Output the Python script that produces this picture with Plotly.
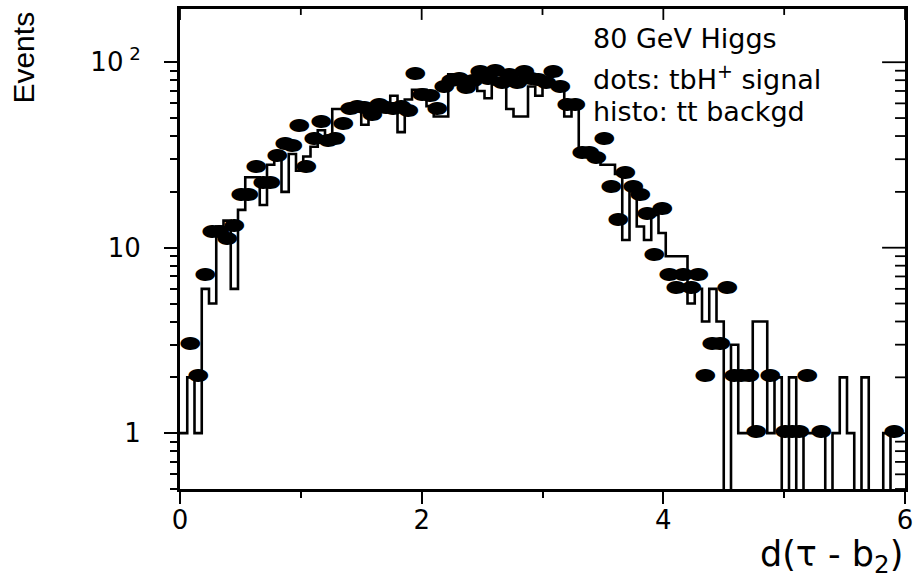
import numpy as np
import plotly.graph_objects as go

# d(tau - b2) distribution, 100 bins over [0, 6]
x_min, x_max, n_bins = 0.0, 6.0, 100

# tt background histogram contents per bin
background = [
    1, 2, 1, 6, 5, 13, 14, 6, 16, 24,
    24, 17, 28, 30, 20, 32, 26, 31, 35, 43,
    40, 56, 56, 55, 56, 46, 54, 54, 55, 66,
    42, 63, 71, 71, 58, 51, 51, 86, 76, 76,
    78, 70, 64, 76, 80, 56, 51, 51, 74, 66,
    78, 78, 73, 51, 60, 32, 32, 30, 28, 28,
    25, 11, 22, 13, 11, 15, 12, 9, 9, 9,
    5, 6, 4, 6, 4, 0, 3, 1, 1, 4,
    4, 1, 2, 0, 2, 0, 1, 1, 1, 0,
    1, 2, 1, 0, 2, 0, 0, 1, 0, 0,
]

# tbH+ signal contents per bin (None = empty bin)
signal = [
    None, 3, 2, 7, 12, 12, 11, 13, 19, 19,
    27, 22, 22, 31, 36, 35, 45, 27, 38, 47,
    37, 38, 46, 55, 57, 56, 51, 58, 56, 55,
    57, 54, 85, 66, 65, 55, 73, 78, 80, 72,
    78, 88, 80, 89, 76, 84, 76, 87, 80, 79,
    76, 88, 73, 58, 58, 32, 32, 30, 38, 21,
    14, 25, 21, 19, 15, 9, 16, 7, 6, 7,
    6, 7, 2, 3, 3, 6, 2, 2, 2, 1,
    None, 2, None, 1, 1, 1, 2, None, 1, None,
    None, None, None, None, None, None, None, None, 1, None,
]

y_tick_vals = [1, 10, 100]
y_tick_text = ["1", "10", "10<sup> 2</sup>"]
x_tick_vals = [0, 2, 4, 6]
x_tick_text = ["0", "2", "4", "6"]
x_minor_vals = [1, 3, 5]
y_minor_vals = [0.5, 0.6, 0.7, 0.8, 0.9] + list(range(2, 10)) + list(range(20, 100, 10)) + [200]

edges = np.linspace(x_min, x_max, n_bins + 1)
centers = 0.5 * (edges[:-1] + edges[1:])

# empty bins drop below the visible range so the step outline falls to the frame
floor = 1e-3
bg = np.array(background, dtype=float)
bg[bg <= 0] = floor
step_y = np.append(bg, bg[-1])

sig_x = [c for c, v in zip(centers, signal) if v is not None]
sig_y = [v for v in signal if v is not None]

FONT = "DejaVu Sans, Liberation Sans, Arial, sans-serif"
TICK_COLOR = "black"
WIDTH, HEIGHT = 919, 581
MARGIN = dict(l=180, r=11, t=6, b=92)
plot_w = WIDTH - MARGIN["l"] - MARGIN["r"]
plot_h = HEIGHT - MARGIN["t"] - MARGIN["b"]

y_range = [np.log10(0.5), 2.287]

fig = go.Figure()
fig.add_trace(go.Scatter(
    x=edges, y=step_y, mode="lines", line_shape="hv",
    line=dict(color="black", width=2.6), showlegend=False, hoverinfo="skip",
))
fig.add_trace(go.Scatter(
    x=sig_x, y=sig_y, mode="text", text=["⬬"] * len(sig_x),
    textfont=dict(family="DejaVu Sans", size=24, color="black"),
    textposition="middle center", showlegend=False,
))

fig.update_layout(
    width=WIDTH, height=HEIGHT, margin=MARGIN,
    paper_bgcolor="white", plot_bgcolor="white",
    font=dict(family=FONT, color="black"),
    xaxis=dict(
        range=[x_min, x_max], showgrid=False, zeroline=False,
        showline=True, linecolor="black", linewidth=3, mirror=True,
        tickvals=x_tick_vals, ticktext=x_tick_text,
        ticks="outside", ticklen=12, tickwidth=1.8, tickcolor=TICK_COLOR,
        minor=dict(tickvals=x_minor_vals, ticks="outside", ticklen=6,
                   tickwidth=1.8, tickcolor=TICK_COLOR),
        tickfont=dict(size=26, family=FONT),
        ticklabelstandoff=-6,
    ),
    yaxis=dict(
        type="log", range=y_range, showgrid=False, zeroline=False,
        showline=True, linecolor="black", linewidth=3, mirror=True,
        tickvals=y_tick_vals, ticktext=y_tick_text,
        ticks="outside", ticklen=13, tickwidth=1.8, tickcolor=TICK_COLOR,
        minor=dict(tickvals=y_minor_vals, ticks="outside", ticklen=7,
                   tickwidth=1.8, tickcolor=TICK_COLOR),
        tickfont=dict(size=26, family=FONT),
        ticklabelstandoff=18,
    ),
)

# inward tick marks on the top and right frame edges, at the same tick values
def y_frac(v):
    return (np.log10(v) - y_range[0]) / (y_range[1] - y_range[0])

tick_line = dict(color=TICK_COLOR, width=1.8)
for vals, length in ((x_tick_vals, 11), (x_minor_vals, 6)):
    for v in vals:
        fig.add_shape(type="line", xref="x", yref="paper", x0=v, x1=v,
                      y0=1, y1=1 - length / plot_h, line=tick_line, layer="above")
for vals, length in ((y_tick_vals, 23), (y_minor_vals, 10)):
    for v in vals:
        f = y_frac(v)
        if 0 <= f <= 1:
            fig.add_shape(type="line", xref="paper", yref="paper", x0=1,
                          x1=1 - length / plot_w, y0=f, y1=f,
                          line=tick_line, layer="above")

# axis titles
fig.add_annotation(
    text="Events", xref="paper", yref="paper", x=-0.2157, y=0.998,
    xanchor="center", yanchor="top", textangle=-90, showarrow=False,
    font=dict(family="Liberation Sans, Arial", size=30),
)
fig.add_annotation(
    text="d(τ - b<sub>2</sub>)", xref="paper", yref="paper", x=1.0, y=-0.14,
    xanchor="right", yanchor="middle", showarrow=False,
    font=dict(family=FONT, size=35),
)

# caption block
caption = ["80 GeV Higgs", "dots: tbH<sup>+</sup> signal", "histo: tt backgd"]
caption_y = [0.938, 0.857, 0.787]
for line, yy in zip(caption, caption_y):
    fig.add_annotation(
        text=line, xref="paper", yref="paper", x=0.567, y=yy,
        xanchor="left", yanchor="middle", showarrow=False,
        font=dict(family=FONT, size=27),
    )

fig.write_html("out.html")
